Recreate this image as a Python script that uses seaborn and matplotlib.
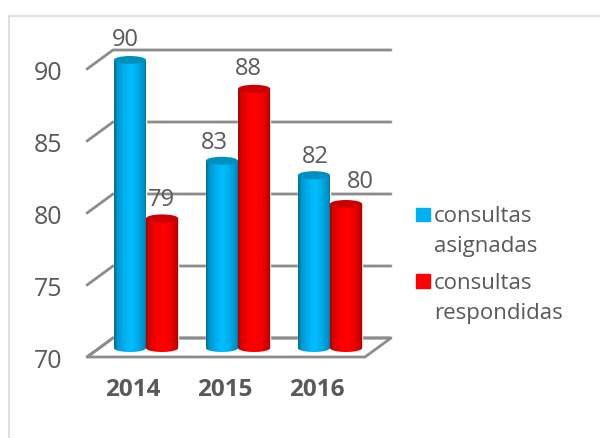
import numpy as np
import pandas as pd
import matplotlib
matplotlib.use("Agg")
import matplotlib.pyplot as plt
import seaborn as sns
from matplotlib.colors import LinearSegmentedColormap
from matplotlib.legend_handler import HandlerPatch
from matplotlib.lines import Line2D
from matplotlib.patches import Ellipse, PathPatch, Polygon, Rectangle
from matplotlib.path import Path

# datos
years = ["2014", "2015", "2016"]
asignadas = [90, 83, 82]
respondidas = [79, 88, 80]
series_names = ["consultas\nasignadas", "consultas\nrespondidas"]
y_ticks = [70, 75, 80, 85, 90]

# ajuste de cada etiqueta de valor en pixeles (dx, dy)
label_nudge = [(-5, 2), (-8, 0), (1, 0), (-1, 0), (-6, 2), (14, 4)]

W, H = 600, 438
BLUE = "#00b0f0"
RED = "#ff0000"
TEXT = "#595959"
GRID = "#8c8c8c"

sns.set_theme(style="white")
plt.rcParams["font.family"] = ["Open Sans", "DejaVu Sans"]

df = pd.DataFrame({
    "year": years * 2,
    "valor": asignadas + respondidas,
    "serie": [series_names[0]] * 3 + [series_names[1]] * 3,
})

fig = plt.figure(figsize=(W / 100, H / 100), dpi=100)

# eje en pixeles: grupos cada 92 px, 14.4 px por unidad, y=70 en el pixel 348
px_unit = 14.4
px_cat = 92
left, right = 100, 376
y_low, y_high = 68, 92
bottom_px = 348 + (70 - y_low) * px_unit
top_px = 348 - (y_high - 70) * px_unit
ax = fig.add_axes([left / W, 1 - bottom_px / H, (right - left) / W, (bottom_px - top_px) / H])
ax.patch.set_alpha(0)

# marco exterior: solo arriba e izquierda
fig.add_artist(Line2D([8.5 / W, 8.5 / W, 1], [0, 1 - 15.5 / H, 1 - 15.5 / H],
                      color="#d9d9d9", lw=1.2, solid_joinstyle="miter"))

sns.barplot(data=df, x="year", y="valor", hue="serie", palette=[BLUE, RED], width=0.7,
            gap=0, legend=False, ax=ax, zorder=3)

wall_dy = 10 / px_unit      # pared del fondo respecto al plano de las barras
front_dy = -9 / px_unit     # borde frontal
depth_x = 26 / px_cat       # desplazamiento horizontal de la profundidad
x_front_l = (87 - 146) / px_cat
x_front_r = (365 - 146) / px_cat
x_back_l = x_front_l + depth_x
x_back_r = x_front_r + depth_x

# rejilla 3D: diagonal izquierda y linea del fondo
for v in y_ticks:
    ax.plot([x_front_l, x_back_l, x_back_r], [v + front_dy, v + wall_dy, v + wall_dy],
            color=GRID, lw=2, clip_on=False, zorder=1, solid_joinstyle="miter")
# suelo
ax.add_patch(Polygon([(x_front_l, 70 + front_dy), (x_back_l, 70 + wall_dy),
                      (x_back_r, 70 + wall_dy), (x_front_r, 70 + front_dy)],
                     closed=True, fill=False, ec=GRID, lw=2, clip_on=False, zorder=1))


def cylinder_path(x0, x1, top):
    # contorno con fondo redondeado
    t = np.linspace(np.pi, 2 * np.pi, 30)
    cx, rx = (x0 + x1) / 2, (x1 - x0) / 2
    ry = 4 / px_unit
    xs = np.r_[x0, cx + rx * np.cos(t), x1, x0]
    ys = np.r_[top, 70 + ry * np.sin(t), top, top]
    return Path(np.column_stack([xs, ys]))


cyl_maps = {
    BLUE: LinearSegmentedColormap.from_list(
        "b", [(0, "#0b6b8e"), (0.1, "#0098d0"), (0.3, "#00aeee"), (0.5, "#00bfff"),
              (0.75, "#00a8e6"), (0.92, "#0090c4"), (1, "#0b6b8e")]),
    RED: LinearSegmentedColormap.from_list(
        "r", [(0, "#8c1010"), (0.1, "#dc0000"), (0.3, "#f60000"), (0.5, "#ff0000"),
              (0.75, "#f00000"), (0.92, "#cc0000"), (1, "#8c1010")]),
}
top_colors = {BLUE: "#0090c0", RED: "#cc0000"}
grad = np.linspace(0, 1, 64).reshape(1, -1)

bars = list(ax.patches)
for bar, color, (dx, dy) in zip(bars, [BLUE] * 3 + [RED] * 3, label_nudge):
    value = bar.get_height()
    bar.set_y(70)
    bar.set_height(value - 70)
    x0, x1 = bar.get_x(), bar.get_x() + bar.get_width()
    im = ax.imshow(grad, extent=[x0, x1, 69, value], aspect="auto", cmap=cyl_maps[color], zorder=4)
    im.set_clip_path(PathPatch(cylinder_path(x0, x1, value), transform=ax.transData))
    ax.add_patch(Ellipse(((x0 + x1) / 2, value), x1 - x0, 8 / px_unit, fc=top_colors[color],
                         ec="none", zorder=5))
    ax.text((x0 + x1) / 2 + dx / px_cat, value + (6 + dy) / px_unit, str(int(value)), ha="center",
            va="bottom", fontsize=17, color=TEXT, zorder=6)

ax.set_xlim(-0.5, 2.5)
ax.set_ylim(y_low, y_high)
ax.set_xlabel("")
ax.set_ylabel("")
sns.despine(ax=ax, left=True, bottom=True)
ax.set_xticks(np.arange(3) - 13 / px_cat, years, fontsize=17.5, fontweight="bold", color=TEXT)
ax.set_yticks(np.array(y_ticks) + front_dy - 2 / px_unit, y_ticks, fontsize=18, color=TEXT)
ax.tick_params(axis="x", length=0, pad=1)
ax.tick_params(axis="y", length=0, pad=27)


def square_handle(legend, orig_handle, xdescent, ydescent, width, height, fontsize):
    return Rectangle((0, 13), 10, 10)


handles = [Rectangle((0, 0), 1, 1, color=BLUE), Rectangle((0, 0), 1, 1, color=RED)]
leg = fig.legend(handles, series_names, loc="upper left", bbox_to_anchor=(416 / W, 1 - 206 / H),
                 frameon=False, fontsize=16, labelcolor=TEXT, handlelength=0.65, handletextpad=0.16,
                 labelspacing=0.72, borderpad=0, borderaxespad=0,
                 handler_map={Rectangle: HandlerPatch(patch_func=square_handle)})
for t in leg.get_texts():
    t.set_linespacing(1.56)

fig.savefig("out.png", dpi=100)
